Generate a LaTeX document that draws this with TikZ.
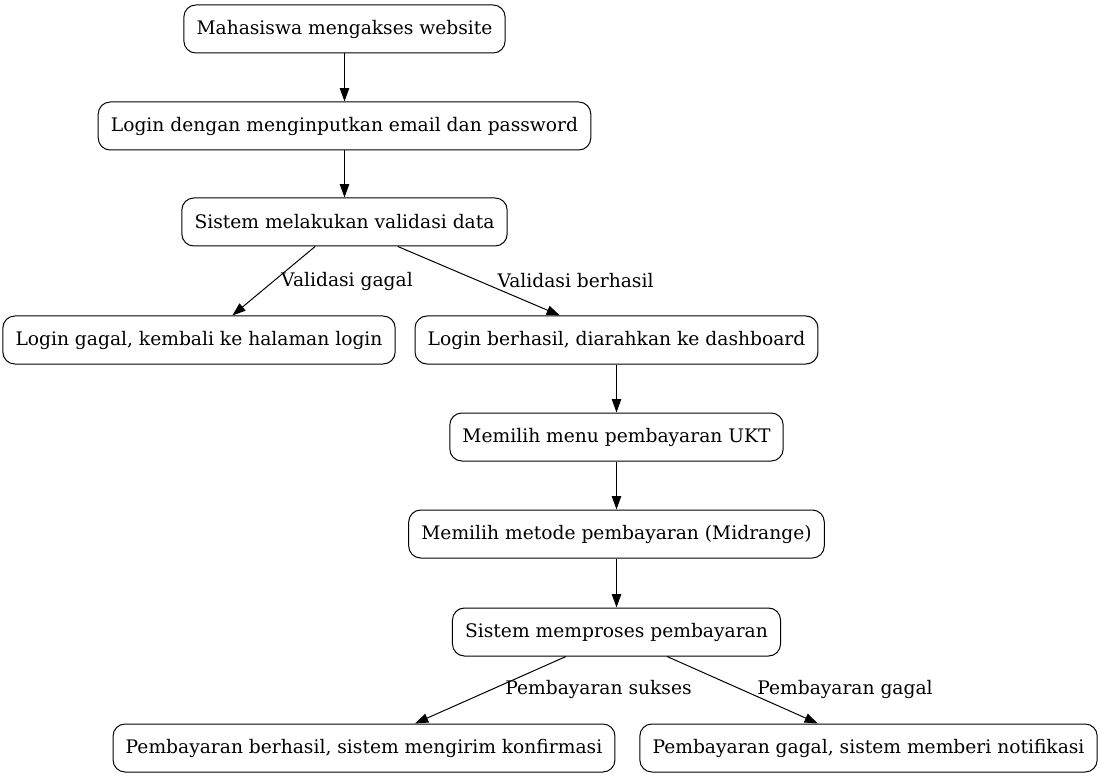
\documentclass[tikz,border=0pt]{standalone}
\usepackage{fontspec}
\setmainfont{DejaVu Serif}
\usetikzlibrary{arrows.meta}
\begin{document}
\begin{tikzpicture}[x=0.75pt,y=-0.75pt,
  box/.style={draw,line width=0.75pt,rounded corners=9pt,minimum height=36pt,inner xsep=9.5pt,font=\fontsize{14}{16}\selectfont},
  lbl/.style={font=\fontsize{14}{16}\selectfont,inner sep=0pt},
  arr/.style={line width=0.75pt,-{Triangle[length=10pt,width=7pt]}}]
\useasboundingbox (0,0) rectangle (1103,777);
\node[box] (n1) at (344.5,29) {Mahasiswa mengakses website};
\node[box] (n2) at (344.5,126) {Login dengan menginputkan email dan password};
\node[box] (n3) at (344.5,222) {Sistem melakukan validasi data};
\node[box] (n4) at (199,340) {Login gagal, kembali ke halaman login};
\node[box] (n5) at (616.5,340) {Login berhasil, diarahkan ke dashboard};
\node[box] (n6) at (616.5,437) {Memilih menu pembayaran UKT};
\node[box] (n7) at (616.5,534) {Memilih metode pembayaran (Midrange)};
\node[box] (n8) at (616.5,632) {Sistem memproses pembayaran};
\node[box] (n9) at (364,748) {Pembayaran berhasil, sistem mengirim konfirmasi};
\node[box] (n10) at (868.5,748) {Pembayaran gagal, sistem memberi notifikasi};
\draw[arr] (n1) -- (n2);
\draw[arr] (n2) -- (n3);
\draw[arr] ([xshift=-22pt]n3.south) -- ([xshift=25pt]n4.north);
\draw[arr] ([xshift=40pt]n3.south) -- ([xshift=-42.4pt]n5.north);
\draw[arr] (n5) -- (n6);
\draw[arr] (n6) -- (n7);
\draw[arr] (n7) -- (n8);
\draw[arr] ([xshift=-37.9pt]n8.south) -- ([xshift=38.2pt]n9.north);
\draw[arr] ([xshift=37.9pt]n8.south) -- ([xshift=-37.9pt]n10.north);
\node[lbl] (l1) at (347,281) {Validasi gagal};
\node[lbl] (l2) at (575.5,281) {Validasi berhasil};
\node[lbl] (l3) at (598.5,689) {Pembayaran sukses};
\node[lbl] (l4) at (845,689) {Pembayaran gagal};
\end{tikzpicture}
\end{document}
